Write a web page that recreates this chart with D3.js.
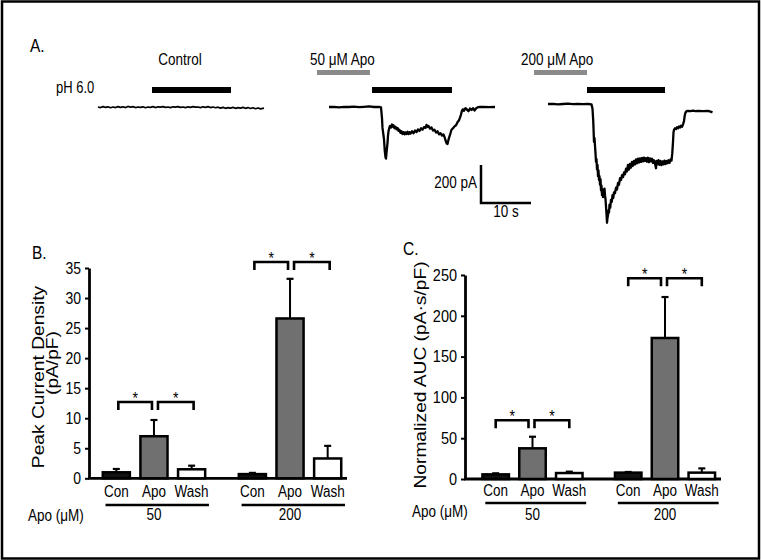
<!DOCTYPE html>
<html><head><meta charset="utf-8">
<script src="https://cdn.jsdelivr.net/npm/d3@7"></script>
<style>
body{margin:0;background:#fff}
svg{display:block}
text{font-family:"Liberation Sans",Arial,Helvetica,sans-serif;fill:#000}
</style>
</head><body>
<svg id="c" width="761" height="560"></svg>
<script>
// ---------------- DATA ----------------
const conditions = ["Con", "Apo", "Wash"];
const doses = ["50", "200"];
const peakTicks = [0, 5, 10, 15, 20, 25, 30, 35];
const aucTicks = [0, 50, 100, 150, 200, 250];
// Peak current density (pA/pF): mean and SEM
const peakMean50 = [1.0, 7.0, 1.5];
const peakErr50 = [0.55, 2.7, 0.6];
const peakMean200 = [0.7, 26.6, 3.3];
const peakErr200 = [0.2, 6.6, 2.1];
// Normalized AUC (pA·s/pF)
const aucMean50 = [5.7, 37.6, 7.3];
const aucErr50 = [1.3, 14.2, 1.7];
const aucMean200 = [7.8, 172.8, 7.8];
const aucErr200 = [0.8, 50.2, 5.2];
// significance bracket heights (data units)
const peakSig = [12.7, 36.0];
const aucSig = [72, 246];

// current traces: [time (s), current (pA)]
const traceControl = [[0,0],[0.5,-3],[1,2],[1.5,-2],[2,1],[2.5,-4],[3,0],[3.5,-3],[4,2],[4.5,-2],[5,1],[5.5,-3],[6,3],[6.5,-1],[7,2],[7.5,-3],[8,0],[8.5,-2],[9,1],[9.5,-4],[10,0],[10.5,-2],[11,2],[11.5,-3],[12,1],[12.5,-1],[13,2],[13.5,-2],[14,0],[14.5,-3],[15,1],[15.5,-1],[16,2],[16.5,-2],[17,0],[17.5,-3],[18,1],[18.5,-2],[19,2],[19.5,-1],[20,0],[20.5,-3],[21,1],[21.5,-2],[22,2],[22.5,-3],[23,0],[23.5,-4],[24,-1],[24.5,-6],[25,-2],[25.5,-7],[26,-3],[26.5,-6],[27,-2],[27.5,-7],[28,-3],[28.5,-6],[29,-2],[29.5,-7],[30,-3],[30.5,-8],[31,-4],[31.5,-9],[32,-5],[32.5,-10],[33.2,-6]];
const trace50 = [[0,0],[1,1],[2,-2],[3,1],[4,0],[5,2],[6,-1],[7,1],[8,3],[9,0],[10,1],[10.4,-2],[10.6,-60],[10.7,-110],[10.9,-150],[11.0,-170],[11.15,-230],[11.3,-265],[11.4,-272],[11.5,-240],[11.6,-215],[11.7,-190],[11.8,-150],[11.9,-128],[12.05,-110],[12.2,-100],[12.4,-108],[12.6,-92],[12.8,-104],[12.9,-96],[13.1,-112],[13.3,-104],[13.5,-118],[13.7,-110],[13.9,-126],[14.1,-120],[14.3,-136],[14.5,-128],[14.7,-142],[14.9,-132],[15.1,-144],[15.3,-134],[15.5,-142],[15.7,-130],[15.9,-143],[16.1,-132],[16.3,-140],[16.6,-128],[16.9,-138],[17.2,-124],[17.5,-132],[17.8,-118],[18.1,-126],[18.4,-112],[18.7,-120],[19.0,-106],[19.3,-110],[19.5,-94],[19.7,-104],[19.9,-100],[20.2,-114],[20.5,-108],[20.8,-124],[21.1,-120],[21.4,-134],[21.7,-128],[22.0,-144],[22.3,-138],[22.6,-150],[22.9,-144],[23.1,-158],[23.3,-175],[23.5,-190],[23.7,-195],[23.9,-172],[24.1,-155],[24.3,-138],[24.5,-120],[24.8,-112],[25.1,-102],[25.4,-96],[25.7,-80],[26.0,-70],[26.2,-56],[26.4,-40],[26.6,-18],[26.8,-12],[27.0,-20],[27.3,-6],[27.6,-14],[27.9,-22],[28.2,-8],[28.5,-16],[28.8,-6],[29.1,-18],[29.4,-8],[29.7,-2],[30,0],[31,1],[32,-1],[33.2,0]];
const trace200 = [[0,0],[1,1],[2,-2],[3,0],[4,2],[5,-1],[6,1],[7,-1],[8,0],[8.7,-2],[8.9,-25],[9.05,-90],[9.2,-200],[9.3,-180],[9.4,-220],[9.5,-260],[9.6,-305],[9.7,-290],[9.8,-345],[9.9,-320],[10.0,-380],[10.1,-350],[10.2,-400],[10.3,-380],[10.4,-425],[10.5,-395],[10.6,-455],[10.7,-430],[10.8,-480],[10.9,-450],[11.0,-490],[11.1,-465],[11.2,-470],[11.3,-445],[11.4,-480],[11.5,-500],[11.6,-540],[11.7,-580],[11.8,-625],[11.9,-600],[12.0,-585],[12.1,-560],[12.2,-570],[12.3,-530],[12.45,-545],[12.6,-505],[12.75,-515],[12.9,-480],[13.05,-495],[13.2,-465],[13.4,-470],[13.6,-440],[13.8,-450],[14.0,-415],[14.2,-425],[14.4,-390],[14.6,-400],[14.8,-375],[15.0,-385],[15.2,-360],[15.4,-370],[15.6,-340],[15.8,-355],[16.0,-320],[16.2,-345],[16.4,-315],[16.6,-335],[16.8,-305],[17.0,-325],[17.2,-300],[17.4,-318],[17.6,-292],[17.8,-312],[18.0,-288],[18.2,-308],[18.4,-286],[18.6,-305],[18.8,-284],[19.0,-302],[19.2,-282],[19.4,-300],[19.6,-285],[19.8,-304],[20.0,-283],[20.2,-306],[20.4,-286],[20.6,-302],[20.8,-288],[21.0,-310],[21.2,-296],[21.4,-315],[21.6,-338],[21.7,-300],[21.9,-318],[22.1,-296],[22.3,-320],[22.5,-300],[22.7,-322],[22.9,-302],[23.1,-318],[23.3,-298],[23.5,-316],[23.7,-300],[23.9,-312],[24.1,-296],[24.3,-310],[24.5,-292],[24.7,-298],[24.85,-260],[25.0,-200],[25.1,-150],[25.2,-135],[25.4,-128],[25.6,-132],[25.8,-122],[26.0,-128],[26.2,-118],[26.4,-124],[26.6,-114],[26.8,-120],[27.0,-108],[27.2,-90],[27.35,-60],[27.5,-45],[27.7,-38],[28,-36],[28.5,-38],[29,-35],[29.5,-38],[30,-36],[31,-37],[32,-36],[32.5,-40],[32.9,-44]];
const traceTitles = ["Control", "50 \u03BCM Apo", "200 \u03BCM Apo"];
const apoPeriods = [null, [-2.4, 8.2], [-2.8, 7.8]];   // s
const phPeriods = [[10.8, 26.6], [8.6, 24.6], [7.8, 23.4]]; // s
const scaleBarTime = 10, scaleBarCurrent = 200;

// ---------------- DRAWING ----------------
const svg = d3.select("#c");
const K = 1.2; // vertical stretch of lettering in the original
function txt(g, x, y, s, size, anchor, rot) {
  return g.append("text")
    .attr("transform", `translate(${x},${y}) scale(1,${K})` + (rot ? " rotate(-90)" : ""))
    .attr("font-size", size).attr("text-anchor", anchor || "start").text(s);
}

// frame
svg.append("rect").attr("x", 2).attr("y", 1.5).attr("width", 757).attr("height", 557)
  .attr("fill", "none").attr("stroke", "#000").attr("stroke-width", 2.5);

// ---------- Panel A ----------
const A = svg.append("g");
txt(A, 30, 52, "A.", 15.5);
txt(A, 56, 92.5, "pH 6.0", 13);
const tx = d3.scaleLinear().domain([0, 10]).range([0, 50]);
const ty = d3.scaleLinear().domain([0, -200]).range([0, 38]);
const traces = [traceControl, trace50, trace200];
const origins = [[98, 107], [329, 107], [548, 104]];
const titlePos = [[180, "middle"], [310, "start"], [521, "start"]];
const line = d3.line().x(d => tx(d[0])).y(d => ty(d[1]));
traces.forEach((tr, i) => {
  const g = A.append("g").attr("transform", `translate(${origins[i][0]},${origins[i][1]})`);
  g.append("path").attr("d", line(tr)).attr("fill", "none").attr("stroke", "#000")
    .attr("stroke-width", i === 0 ? 1.7 : 2.3).attr("stroke-linejoin", "round");
  const gb = A.append("g").attr("transform", `translate(${origins[i][0]},0)`);
  if (apoPeriods[i]) {
    gb.append("rect").attr("x", tx(apoPeriods[i][0])).attr("y", 70)
      .attr("width", tx(apoPeriods[i][1]) - tx(apoPeriods[i][0])).attr("height", 5).attr("fill", "#8a8a8a");
  }
  gb.append("rect").attr("x", tx(phPeriods[i][0])).attr("y", 87)
    .attr("width", tx(phPeriods[i][1]) - tx(phPeriods[i][0])).attr("height", 6).attr("fill", "#000");
  txt(A, titlePos[i][0], 65, traceTitles[i], 13.5, titlePos[i][1]);
});
// scale bar
const sb = A.append("g").attr("transform", "translate(481,203)");
sb.append("path").attr("d", `M0,${-ty(-scaleBarCurrent)}V0H${tx(scaleBarTime)}`)
  .attr("fill", "none").attr("stroke", "#000").attr("stroke-width", 2.5);
txt(A, 477, 188, scaleBarCurrent + " pA", 13.5, "end");
txt(A, 481 + tx(scaleBarTime) / 2, 216.5, scaleBarTime + " s", 13.5, "middle");

// ---------- Bar panels ----------
function barPanel(cfg) {
  const g = svg.append("g");
  const y = d3.scaleLinear().domain([0, cfg.ticks[cfg.ticks.length - 1]]).range([cfg.y0, cfg.yTop]);
  const xo = d3.scaleBand().domain(doses).range(cfg.xr).paddingInner(cfg.padOuterGroups);
  const xi = d3.scaleBand().domain(conditions).range([0, xo.bandwidth()]).paddingInner(0.28).paddingOuter(0.14);
  const cx = (d, c) => xo(d) + xi(c) + xi.bandwidth() / 2;
  const fills = ["#111", "#707070", "#fff"];

  // axis
  const ax = g.append("g").attr("transform", `translate(${cfg.axX},0)`)
    .call(d3.axisLeft(y).tickValues(cfg.ticks).tickSize(4).tickSizeOuter(0).tickPadding(4));
  ax.select(".domain").attr("stroke-width", 2.8);
  ax.selectAll(".tick line").attr("stroke-width", 2);
  ax.selectAll(".tick text").attr("font-size", cfg.tickSize)
    .attr("font-family", '"Liberation Sans",Arial,sans-serif')
    .attr("dy", "0.3em").attr("y", 0).attr("transform", `scale(1,${K})`);
  g.append("line").attr("x1", cfg.axX - 1).attr("x2", cfg.xEnd).attr("y1", cfg.y0).attr("y2", cfg.y0)
    .attr("stroke", "#000").attr("stroke-width", 2.8);

  doses.forEach((d, di) => {
    const means = cfg.means[di], errs = cfg.errs[di];
    conditions.forEach((c, ci) => {
      const x0 = xo(d) + xi(c), w = xi.bandwidth();
      const m = means[ci], e = errs[ci];
      const xc = x0 + w / 2;
      g.append("line").attr("x1", xc).attr("x2", xc).attr("y1", y(m)).attr("y2", y(m + e))
        .attr("stroke", "#000").attr("stroke-width", 2);
      g.append("line").attr("x1", xc - 3.5).attr("x2", xc + 3.5).attr("y1", y(m + e)).attr("y2", y(m + e))
        .attr("stroke", "#000").attr("stroke-width", 2.2);
      g.append("rect").attr("x", x0).attr("y", y(m)).attr("width", w).attr("height", y(0) - y(m))
        .attr("fill", fills[ci]).attr("stroke", "#000").attr("stroke-width", 2.5);
      txt(g, xc, cfg.labY, c, 13.5, "middle");
    });
    // group underline & dose label
    g.append("line").attr("x1", xo(d) + 8).attr("x2", xo(d) + xo.bandwidth() - 1.5)
      .attr("y1", cfg.ulY).attr("y2", cfg.ulY).attr("stroke", "#000").attr("stroke-width", 2.6);
    txt(g, xo(d) + xo.bandwidth() / 2, cfg.doseY, d, 13.5, "middle");
    // significance brackets
    const top = y(cfg.sig[di]);
    const pairs = [[cx(d, "Con") + cfg.bo[0], cx(d, "Apo") - cfg.bo[1]],
                   [cx(d, "Apo") + cfg.bo[2], cx(d, "Wash") + cfg.bo[3]]];
    pairs.forEach(p => {
      g.append("path").attr("d", `M${p[0]},${top + 8}V${top}H${p[1]}V${top + 8}`)
        .attr("fill", "none").attr("stroke", "#000").attr("stroke-width", 2.6);
      txt(g, (p[0] + p[1]) / 2, top + 2, "*", 14, "middle");
    });
  });
  txt(g, cfg.apoX, cfg.apoY, "Apo (\u03BCM)", 13.5);
  return g;
}

const B = barPanel({
  ticks: peakTicks, y0: 478.3, yTop: 268, xr: [97.5, 346.5], padOuterGroups: 0.17,
  axX: 89, xEnd: 347, tickSize: 14, means: [peakMean50, peakMean200], errs: [peakErr50, peakErr200],
  sig: peakSig, labY: 496.5, ulY: 505, doseY: 520, apoX: 28, apoY: 521, bo: [2, 2, 4, 2]
});
txt(B, 32, 259, "B.", 15.5);
txt(B, 44, 377, "Peak Current Density", 16, "middle", true);
txt(B, 58, 363, "(pA/pF)", 16, "middle", true);

const C = barPanel({
  ticks: aucTicks, y0: 479, yTop: 275, xr: [477.3, 720.2], padOuterGroups: 0.167,
  axX: 465, xEnd: 721, tickSize: 14.5, means: [aucMean50, aucMean200], errs: [aucErr50, aucErr200],
  sig: aucSig, labY: 496, ulY: 503, doseY: 520, apoX: 412, apoY: 517, bo: [0, 4, 2, 0]
});
txt(C, 403, 255, "C.", 15.5);
txt(C, 426, 375, "Normalized AUC (pA\u00B7s/pF)", 16, "middle", true);
</script>
</body></html>
